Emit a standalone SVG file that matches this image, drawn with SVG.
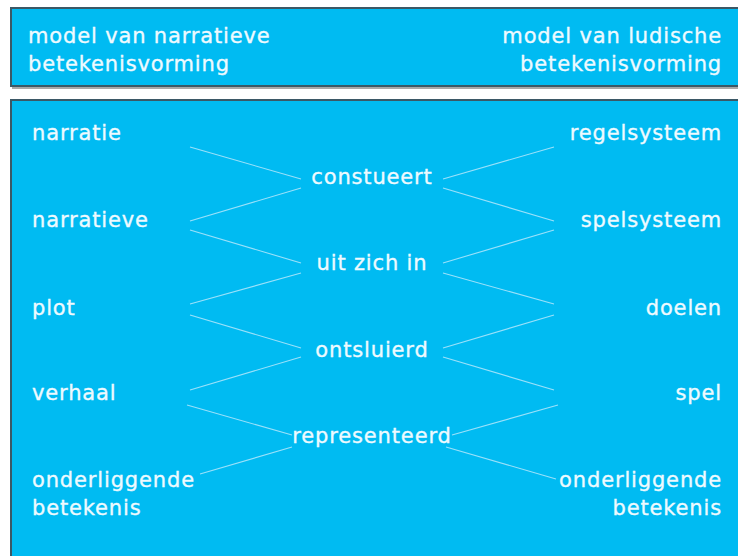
<svg xmlns="http://www.w3.org/2000/svg" width="738" height="556" viewBox="0 0 738 556">
<style>
.box{fill:#00bbf2;stroke:#3b5866;stroke-width:2}
.shadow{fill:#a9a9a9}
text{font-family:"DejaVu Sans","Verdana",sans-serif;font-size:21px;fill:#eefaff;stroke:#eefaff;stroke-width:0.35;letter-spacing:0.85px}
.r{text-anchor:end}
.m{text-anchor:middle}
.c line{stroke:#b5e8fb;stroke-width:1.1;stroke-opacity:0.85}
</style>
<rect width="738" height="556" fill="#ffffff"/>
<g id="header">
<rect class="shadow" x="12" y="10" width="740" height="79"/>
<rect class="box" x="11" y="8" width="740" height="78"/>
</g>
<g id="panel">
<rect class="shadow" x="12" y="102" width="740" height="470"/>
<rect class="box" x="11" y="100" width="740" height="470"/>
</g>
<g id="title-narrative"><text x="28" y="43">model van narratieve</text><text x="28" y="71">betekenisvorming</text></g>
<g id="title-ludic"><text class="r" x="722" y="43">model van ludische</text><text class="r" x="722" y="71">betekenisvorming</text></g>
<g class="c" id="connectors">
<line x1="190" y1="147" x2="301" y2="179"/>
<line x1="301" y1="188" x2="190" y2="221"/>
<line x1="190" y1="230" x2="301" y2="263"/>
<line x1="301" y1="273" x2="190" y2="304"/>
<line x1="190" y1="315" x2="301" y2="348"/>
<line x1="301" y1="357" x2="190" y2="390"/>
<line x1="187" y1="405" x2="292" y2="435"/>
<line x1="292" y1="447" x2="200" y2="474"/>
<line x1="443" y1="179" x2="554" y2="147"/>
<line x1="443" y1="188" x2="554" y2="221"/>
<line x1="443" y1="263" x2="554" y2="230"/>
<line x1="443" y1="273" x2="554" y2="304"/>
<line x1="443" y1="348" x2="554" y2="315"/>
<line x1="443" y1="357" x2="554" y2="390"/>
<line x1="452" y1="435" x2="558" y2="405"/>
<line x1="446" y1="447" x2="556" y2="479"/>
</g>
<g id="narratie"><text x="32" y="140">narratie</text></g>
<g id="narratieve"><text x="32" y="227">narratieve</text></g>
<g id="plot"><text x="32" y="315">plot</text></g>
<g id="verhaal"><text x="32" y="400">verhaal</text></g>
<g id="onderliggende-betekenis-l"><text x="32" y="487">onderliggende</text><text x="32" y="515">betekenis</text></g>
<g id="regelsysteem"><text class="r" x="722" y="140">regelsysteem</text></g>
<g id="spelsysteem"><text class="r" x="722" y="227">spelsysteem</text></g>
<g id="doelen"><text class="r" x="722" y="315">doelen</text></g>
<g id="spel"><text class="r" x="722" y="400">spel</text></g>
<g id="onderliggende-betekenis-r"><text class="r" x="722" y="487">onderliggende</text><text class="r" x="722" y="515">betekenis</text></g>
<g id="constueert"><text class="m" x="372" y="184">constueert</text></g>
<g id="uit-zich-in"><text class="m" x="372" y="270">uit zich in</text></g>
<g id="ontsluierd"><text class="m" x="372" y="357">ontsluierd</text></g>
<g id="representeerd"><text class="m" x="372" y="443">representeerd</text></g>
</svg>
